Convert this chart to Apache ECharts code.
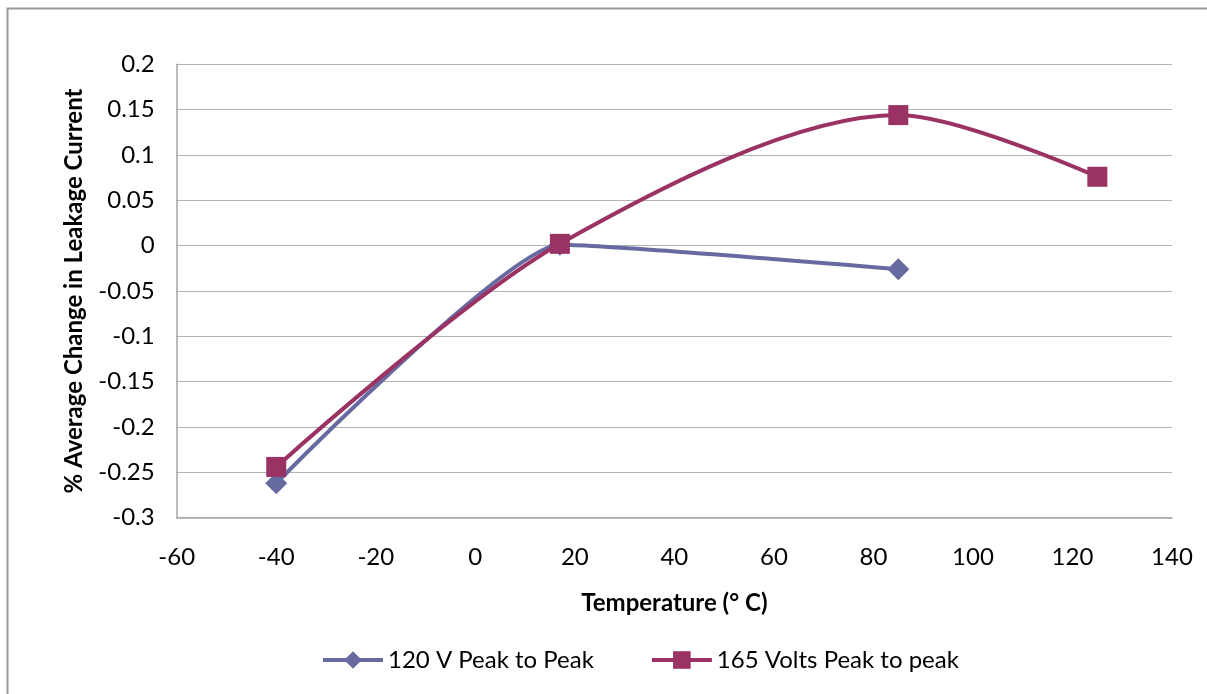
<!DOCTYPE html>
<html>
<head>
<meta charset="utf-8">
<script src="https://cdn.jsdelivr.net/npm/echarts@6/dist/echarts.min.js"></script>
<style>html,body{margin:0;padding:0;background:#fff;}#c{width:1207px;height:694px;}</style>
</head>
<body>
<div id="c"></div>
<script>
const series120Name = '120 V Peak to Peak';
const series165Name = '165 Volts Peak to peak';
const temps120 = [-40, 17, 85];
const values120 = [-0.262, 0.001, -0.026];
const temps165 = [-40, 17, 85, 125];
const values165 = [-0.244, 0.002, 0.144, 0.076];
const xTitle = 'Temperature (° C)';
const yTitle = '% Average Change in Leakage Current';

const FONT = 'Lato';
const FS = 24;
const chart = echarts.init(document.getElementById('c'));
chart.setOption({
  animation: false,
  backgroundColor: '#fff',
  textStyle: {fontFamily: FONT},
  graphic: [{type: 'rect', shape: {x: 7.5, y: 8.5, width: 1400, height: 900}, style: {fill: 'none', stroke: '#9a9a9a', lineWidth: 2}, silent: true, z: -1}],
  grid: {left: 176.7, right: 35, top: 64.3, bottom: 176.3},
  legend: {
    left: 316, top: 643,
    itemWidth: 60, itemHeight: 22, itemGap: 56,
    lineStyle: {width: 4},
    textStyle: {fontFamily: FONT, fontSize: FS, color: '#000'},
    data: [series120Name, series165Name]
  },
  xAxis: {
    type: 'value', min: -60, max: 140, interval: 20,
    name: xTitle, nameLocation: 'middle', nameGap: 74,
    nameTextStyle: {fontFamily: FONT, fontSize: FS, fontWeight: 'bold', color: '#000'},
    axisLine: {show: true, onZero: false, lineStyle: {color: '#a6a6a6', width: 1.5}},
    axisTick: {show: false},
    splitLine: {show: false},
    axisLabel: {fontFamily: FONT, fontSize: FS, color: '#000', margin: 28}
  },
  yAxis: {
    type: 'value', min: -0.3, max: 0.2, interval: 0.05,
    name: yTitle, nameLocation: 'middle', nameGap: 90, nameRotate: 90,
    nameTextStyle: {fontFamily: FONT, fontSize: FS, fontWeight: 'bold', color: '#000'},
    axisLine: {show: true, onZero: false, lineStyle: {color: '#a6a6a6', width: 1.5}},
    axisTick: {show: false},
    splitLine: {show: true, lineStyle: {color: '#b3b3b3', width: 1.2}},
    axisLabel: {fontFamily: FONT, fontSize: FS, color: '#000', margin: 22,
      formatter: v => String(parseFloat(v.toFixed(2)))}
  },
  series: [
    {
      name: series120Name, type: 'line', smooth: 0.15,
      data: temps120.map((t, i) => [t, values120[i]]),
      symbol: 'diamond', symbolSize: 22,
      lineStyle: {color: '#676aa0', width: 4},
      itemStyle: {color: '#676aa0'}
    },
    {
      name: series165Name, type: 'line', smooth: 0.3,
      data: temps165.map((t, i) => [t, values165[i]]),
      symbol: 'rect', symbolSize: 20,
      lineStyle: {color: '#9a3363', width: 4},
      itemStyle: {color: '#9a3363'}
    }
  ]
});
</script>
</body>
</html>
